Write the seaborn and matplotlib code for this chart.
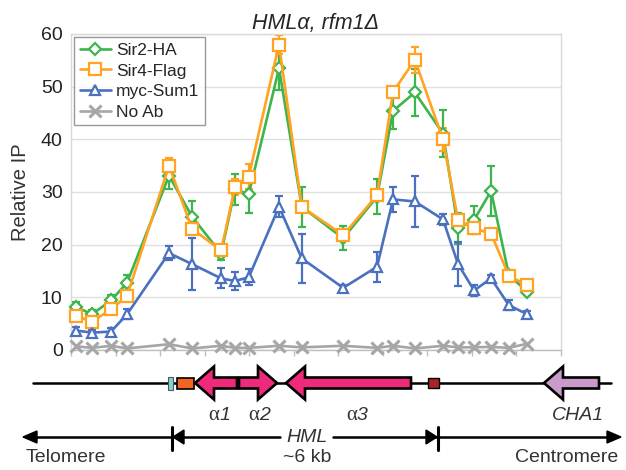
import pandas as pd
import seaborn as sns
import matplotlib.pyplot as plt
from matplotlib.patches import Polygon, Rectangle

### DADOS

position = [0.11, 0.47, 0.90, 1.26, 2.20, 2.72, 3.37, 3.68, 3.99, 4.67, 5.18,
            6.11, 6.87, 7.23, 7.72, 8.35, 8.69, 9.05, 9.43, 9.83, 10.24]

sir2 = [8.2, 6.8, 9.4, 12.8, 33.1, 25.3, 18.3, 30.5, 29.6, 53.5, 27.2,
        21.2, 29.1, 45.4, 48.9, 41.1, 23.1, 24.7, 30.2, 14.2, 11.1]
sir2_err = [1.0, 0.8, 1.0, 1.5, 2.5, 3.0, 1.3, 3.0, 3.6, 4.2, 3.8,
            2.3, 3.3, 3.4, 4.4, 4.5, 3.0, 2.7, 4.8, 0.6, 0.6]

sir4 = [6.5, 5.4, 7.7, 10.3, 35.0, 23.0, 18.9, 30.9, 32.9, 58.0, 27.2,
        21.8, 29.4, 49.0, 55.1, 40.0, 24.6, 23.1, 22.1, 14.1, 12.3]
sir4_err = [0.6, 0.5, 0.6, 0.8, 1.5, 1.0, 0.8, 1.5, 2.4, 1.8, 0.8,
            0.8, 0.8, 1.0, 2.5, 2.2, 1.2, 0.8, 0.6, 0.6, 0.6]

sum1 = [3.7, 3.3, 3.5, 6.8, 18.4, 16.3, 13.6, 13.1, 13.8, 27.2, 17.4,
        11.8, 15.8, 28.6, 28.2, 24.8, 16.3, 11.3, 13.6, 8.5, 6.8]
sum1_err = [0.6, 0.5, 0.6, 0.9, 1.4, 5.0, 1.9, 1.7, 1.5, 2.0, 4.6,
            0.6, 2.8, 2.4, 4.9, 1.0, 4.2, 1.0, 0.6, 0.9, 0.6]

noab = [0.7, 0.4, 0.8, 0.3, 1.1, 0.3, 0.8, 0.4, 0.4, 0.8, 0.5,
        0.8, 0.4, 0.8, 0.3, 0.8, 0.5, 0.5, 0.6, 0.4, 1.2]

series_names = ['Sir2-HA', 'Sir4-Flag', 'myc-Sum1', 'No Ab']
series_vals = [sir2, sir4, sum1, noab]
series_err = [sir2_err, sir4_err, sum1_err, None]
colors = ['#3DB44D', '#FFA321', '#4A70BF', '#A6A6A6']
markers = ['D', 's', '^', 'x']
msizes = [6, 8.5, 7.5, 8.5]

# mapa do locus (coordenadas em pixels da figura)
genes = ['1', '2', '3', 'CHA1']
gene_tail = [237, 239, 411, 599]
gene_tip = [195, 277, 286, 544]
gene_color = ['#EE2A7B', '#EE2A7B', '#EE2A7B', '#C99BCB']
gene_label_x = [218, 258, 356, 578]

### GRAFICO

sns.set_theme(style='white')
plt.rcParams['font.family'] = ['Liberation Sans', 'DejaVu Sans']

fig = plt.figure(figsize=(6.26, 4.70), dpi=100)
ax = fig.add_axes([71 / 626, 1 - 350 / 470, 490 / 626, 316 / 470])

for name, vals, err, col, mk, ms in zip(series_names, series_vals, series_err,
                                        colors, markers, msizes):
    df = pd.DataFrame({'pos': position, 'ip': vals})
    if err is not None:
        ax.errorbar(position, vals, yerr=err, fmt='none', ecolor=col,
                    elinewidth=1.6, capsize=3, capthick=1.6, zorder=2)
    sns.lineplot(data=df, x='pos', y='ip', ax=ax, color=col, marker=mk,
                 markersize=ms, markerfacecolor='white', markeredgecolor=col,
                 markeredgewidth=1.6 if mk != 'x' else 2.2, linewidth=1.9,
                 label=name, clip_on=False, zorder=3)

ax.set_xlim(0, 11)
ax.set_ylim(0, 60)
ax.set_xticks(range(12))
ax.set_xticklabels([])
ax.set_yticks(range(0, 61, 10))
ax.tick_params(axis='y', labelsize=14, length=0, pad=6, labelcolor='#222222')
ax.tick_params(axis='x', direction='out', length=4, width=1, color='#BFBFBF',
               bottom=True)
ax.grid(axis='y', color='#E0E0E0', linewidth=1)
ax.grid(axis='x', visible=False)
for s in ax.spines.values():
    s.set_color('#D9D9D9')
    s.set_linewidth(1)
ax.spines['bottom'].set_color('#BFBFBF')
ax.set_xlabel('')
ax.set_ylabel('Relative IP', fontsize=14.5, color='#333333', labelpad=8)
ax.set_title('HMLα, rfm1Δ', fontsize=15.5, style='italic', pad=3)

leg = ax.legend(loc='upper left', fontsize=12.5, frameon=True, fancybox=False,
                edgecolor='#808080', borderaxespad=0.2, labelspacing=0.32,
                handlelength=1.8, handletextpad=0.3, borderpad=0.3)
leg.get_frame().set_linewidth(1)

### MAPA DO LOCUS

dax = fig.add_axes([0, 0, 1, 1])
dax.set_xlim(0, 626)
dax.set_ylim(470, 0)
dax.axis('off')
dax.patch.set_alpha(0)

yc = 383
dax.plot([33, 611], [yc, yc], color='black', lw=1.8, zorder=1)
dax.add_patch(Rectangle((168, 377), 5, 13, facecolor='#7FD3D3',
                        edgecolor='#555555', lw=0.8, zorder=2))
dax.add_patch(Rectangle((177, 378), 17, 11, facecolor='#F26522',
                        edgecolor='black', lw=1.2, zorder=2))
dax.add_patch(Rectangle((428, 378), 11, 10, facecolor='#A8262B',
                        edgecolor='black', lw=1.0, zorder=2))

bh, hh, hl = 5.5, 16.5, 19
for tail, tip, col in zip(gene_tail, gene_tip, gene_color):
    d = 1 if tip > tail else -1
    base = tip - d * hl
    pts = [(tail, yc - bh), (base, yc - bh), (base, yc - hh), (tip, yc),
           (base, yc + hh), (base, yc + bh), (tail, yc + bh)]
    dax.add_patch(Polygon(pts, closed=True, facecolor=col, edgecolor='black',
                          lw=1.9, joinstyle='miter', zorder=3))

for g, lx in zip(genes, gene_label_x):
    if g == 'CHA1':
        dax.text(lx, 415, g, fontsize=14, style='italic', ha='center',
                 va='center', color='#333333')
    else:
        dax.text(lx + 1, 415, 'α', fontsize=15, ha='right', va='center',
                 family=['Liberation Serif', 'DejaVu Serif'], color='#333333')
        dax.text(lx + 1, 415, g, fontsize=14, style='italic', ha='left',
                 va='center', color='#333333')

yb = 437
dax.plot([30, 280], [yb, yb], color='black', lw=1.8)
dax.plot([333, 614], [yb, yb], color='black', lw=1.8)
dax.add_patch(Polygon([(23, yb), (37, yb - 6), (37, yb + 6)], color='black'))
dax.add_patch(Polygon([(621, yb), (607, yb - 6), (607, yb + 6)], color='black'))
dax.plot([172, 172], [427, 450], color='black', lw=2.2)
dax.add_patch(Polygon([(173, yb), (184, yb - 7), (184, yb + 7)], color='black'))
dax.plot([438, 438], [427, 450], color='black', lw=2.2)
dax.add_patch(Polygon([(437, yb), (426, yb - 7), (426, yb + 7)], color='black'))

dax.text(307, yb, 'HML', fontsize=14, style='italic', ha='center', va='center',
         color='#333333')
dax.text(307, 458, '~6 kb', fontsize=14, ha='center', va='center', color='#333333')
dax.text(66, 458, 'Telomere', fontsize=14, ha='center', va='center', color='#333333')
dax.text(567, 458, 'Centromere', fontsize=14, ha='center', va='center',
         color='#333333')

plt.savefig('out.png', dpi=100)
